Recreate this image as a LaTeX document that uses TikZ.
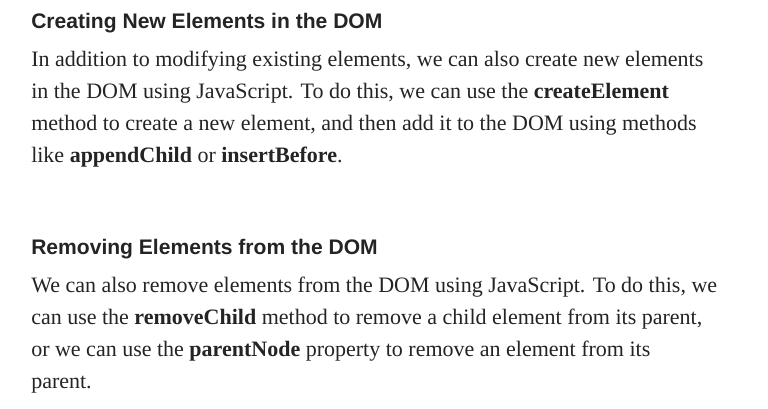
\documentclass[tikz,border=0pt]{standalone}
\usepackage{fontspec}
\setmainfont{Liberation Serif}
\newfontfamily\headfont{Liberation Sans}
\usetikzlibrary{positioning}
\definecolor{inkgray}{HTML}{242424}
\tikzset{
    heading/.style = {anchor=base west, inner sep=0pt, text=inkgray, font=\headfont\bfseries\fontsize{15.8}{19}\selectfont},
    bodyline/.style = {anchor=base west, inner sep=0pt, text=inkgray, font=\fontsize{16.5}{20}\selectfont}
}

\begin{document}
\begin{tikzpicture}[x=0.75pt, y=-0.75pt]
        % fix the canvas
        \useasboundingbox[fill=white] (0,0) rectangle (768,408);

        % first section
        \node[heading] (head1) at (31,28) {Creating New Elements in the DOM};
        \node[bodyline] (c1) at (31,66) {In addition to modifying existing elements, we can also create new elements};
        \node[bodyline] (c2) at (31,98) {in the DOM using JavaScript. To do this, we can use the \textbf{createElement}};
        \node[bodyline] (c3) at (31,130) {method to create a new element, and then add it to the DOM using methods};
        \node[bodyline] (c4) at (31,162) {like \textbf{appendChild} or \textbf{insertBefore}.};

        % second section
        \node[heading] (head2) at (31,254) {Removing Elements from the DOM};
        \node[bodyline] (r1) at (31,292) {We can also remove elements from the DOM using JavaScript. To do this, we};
        \node[bodyline] (r2) at (31,324) {can use the \textbf{removeChild} method to remove a child element from its parent,};
        \node[bodyline] (r3) at (31,356) {or we can use the \textbf{parentNode} property to remove an element from its};
        \node[bodyline] (r4) at (31,388) {parent.};
\end{tikzpicture}
\end{document}
